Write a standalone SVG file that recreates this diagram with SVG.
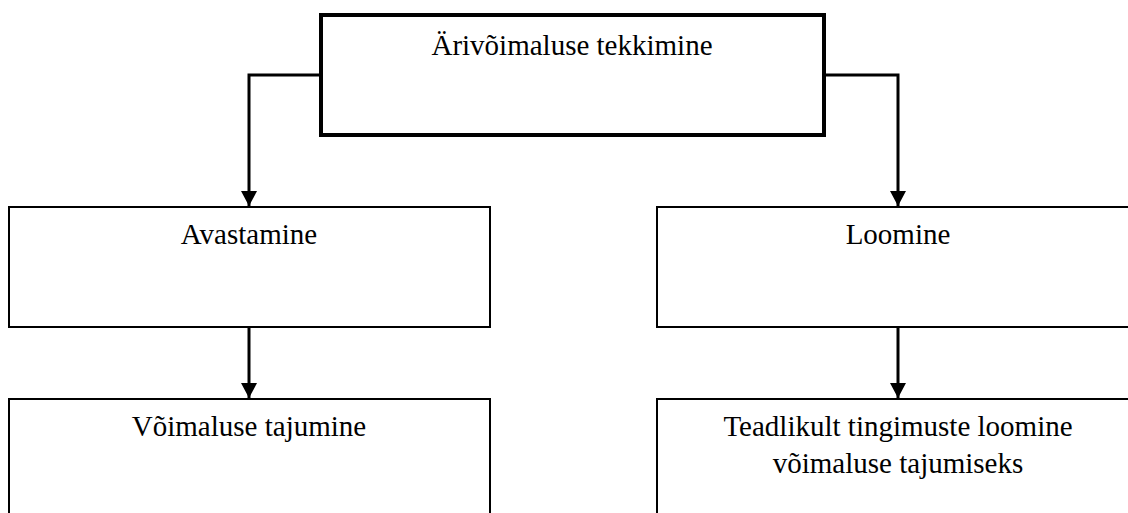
<svg xmlns="http://www.w3.org/2000/svg" width="1128" height="513" viewBox="0 0 1128 513">
<style>
.t{font-family:"Liberation Serif","Times New Roman",serif;font-size:29px;fill:#000;text-anchor:middle}
.box{fill:#fff;stroke:#000;stroke-width:2}
.top{fill:#fff;stroke:#000;stroke-width:4}
.c{fill:none;stroke:#000;stroke-width:3}
</style>
<defs>
<marker id="ah" markerUnits="userSpaceOnUse" markerWidth="18" markerHeight="18" refX="15" refY="8" orient="auto">
<path d="M0,0 L15,8 L0,16 Z" fill="#000"/>
</marker>
</defs>
<rect width="1128" height="513" fill="#fff"/>
<g id="connectors">
<path class="c" d="M321,75 H249 V206" marker-end="url(#ah)"/>
<path class="c" d="M824,75 H898 V206" marker-end="url(#ah)"/>
<path class="c" d="M249,328 V398" marker-end="url(#ah)"/>
<path class="c" d="M898,328 V398" marker-end="url(#ah)"/>
</g>
<g id="n-top">
<rect class="top" x="321" y="15" width="503" height="120"/>
<text class="t" x="572" y="55">Ärivõimaluse tekkimine</text>
</g>
<g id="n-avastamine">
<rect class="box" x="9" y="207" width="481" height="120"/>
<text class="t" x="249" y="244">Avastamine</text>
</g>
<g id="n-loomine">
<rect class="box" x="657" y="207" width="490" height="120"/>
<text class="t" x="898" y="244">Loomine</text>
</g>
<g id="n-tajumine">
<rect class="box" x="9" y="399" width="481" height="130"/>
<text class="t" x="249" y="436">Võimaluse tajumine</text>
</g>
<g id="n-teadlikult">
<rect class="box" x="657" y="399" width="490" height="130"/>
<text class="t" x="898" y="436">Teadlikult tingimuste loomine</text>
<text class="t" x="898" y="473">võimaluse tajumiseks</text>
</g>
</svg>
